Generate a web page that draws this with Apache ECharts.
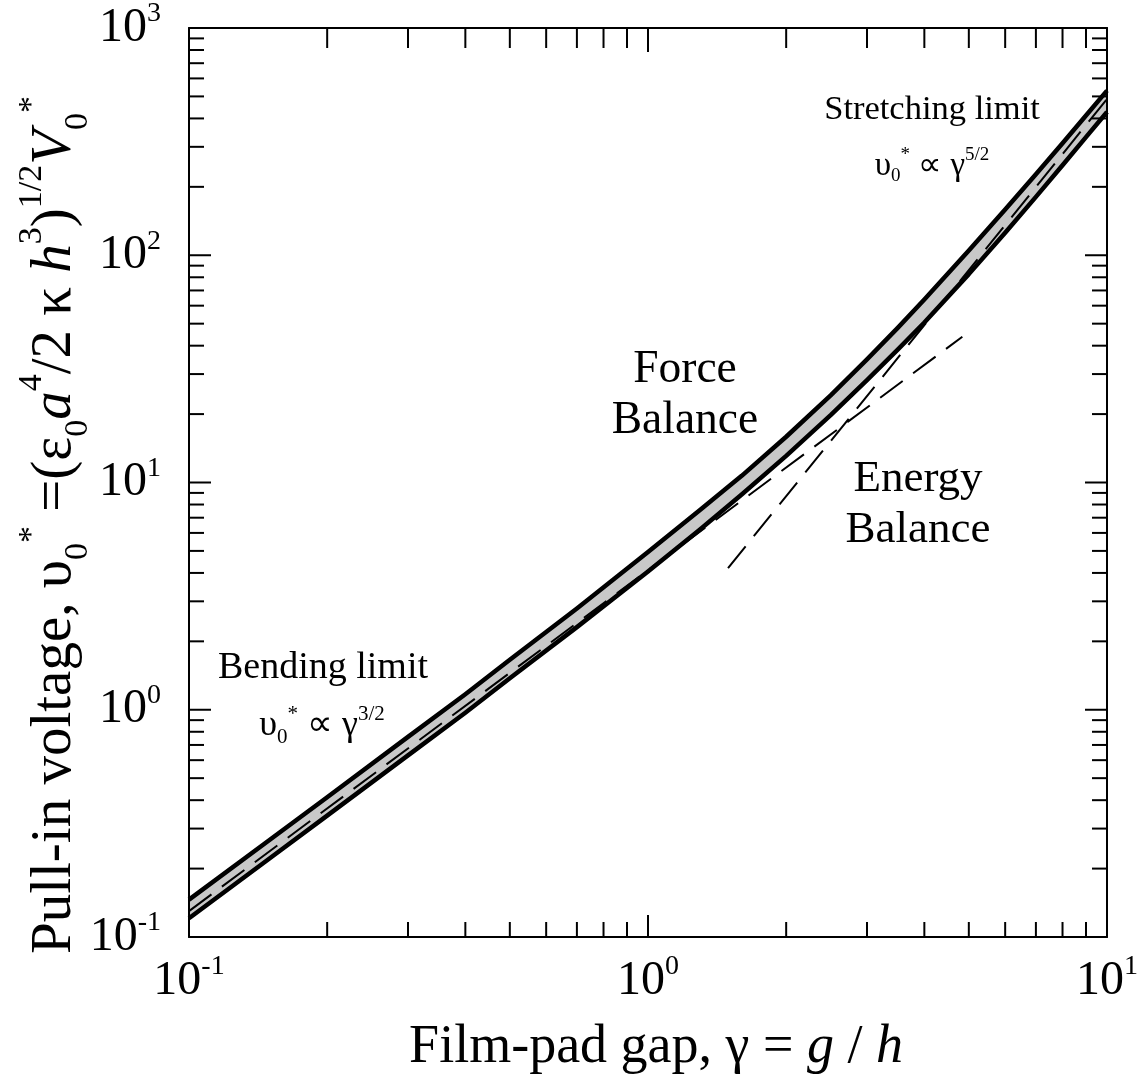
<!DOCTYPE html>
<html>
<head>
<meta charset="utf-8">
<script src="https://cdn.jsdelivr.net/npm/echarts@6/dist/echarts.min.js"></script>
<style>
  html, body { margin: 0; padding: 0; background: #fff; }
  #chart { width: 1148px; height: 1080px; }
</style>
</head>
<body>
<div id="chart"></div>
<script>
// ---- data ----
const gamma = [0.1, 0.15, 0.2, 0.3, 0.4, 0.5, 0.7, 1.0, 1.3, 1.6, 2.0, 2.5, 3.0, 3.5, 4.0, 5.0, 6.0, 7.0, 8.0, 9.0, 10];
const upperCurve = [0.146, 0.268, 0.412, 0.76, 1.17, 1.66, 2.79, 4.94, 7.58, 10.7, 15.9, 24.2, 34.8, 47.9, 63.9, 105, 159, 227, 311, 412, 530];
const lowerCurve = [0.121, 0.222, 0.342, 0.63, 0.97, 1.375, 2.31, 4.06, 6.23, 8.85, 13.1, 19.8, 28.2, 38.4, 50.6, 82.6, 125.6, 180.7, 249, 331, 427];
const bendingAsymptote = [[0.1, 0.130], [4.84, 43.8]];
const stretchingAsymptote = [[1.494, 4.2], [10, 487]];
const xMajorTicks = [0.1, 1, 10];
const xMinorTicks = [0.2, 0.3, 0.4, 0.5, 0.6, 0.7, 0.8, 0.9, 2, 3, 4, 5, 6, 7, 8, 9];
const yMajorTicks = [0.1, 1, 10, 100, 1000];
const yMinorTicks = [0.2, 0.3, 0.4, 0.5, 0.6, 0.7, 0.8, 0.9, 2, 3, 4, 5, 6, 7, 8, 9,
                     20, 30, 40, 50, 60, 70, 80, 90, 200, 300, 400, 500, 600, 700, 800, 900];

const FONT = 'Liberation Serif';
const chart = echarts.init(document.getElementById('chart'), null, { renderer: 'canvas' });

function expLabel(v) {
  const e = Math.round(Math.log10(v));
  return '{b|10}{s|' + e + '}';
}
const tickLabelRich = {
  b: { fontFamily: FONT, fontSize: 48, color: '#000', lineHeight: 56 },
  s: { fontFamily: FONT, fontSize: 28, color: '#000', lineHeight: 28, verticalAlign: 'top' }
};

const xTickData = xMajorTicks.map(v => [v, 1, 1]).concat(xMinorTicks.map(v => [v, 1, 0]));
const yTickData = yMajorTicks.map(v => [1, v, 1]).concat(yMinorTicks.map(v => [1, v, 0]));

const bandData = gamma.map((g, i) => [g, upperCurve[i], lowerCurve[i]]);

const option = {
  animation: false,
  backgroundColor: '#fff',
  grid: { left: 189, right: 41, top: 27, bottom: 143, containLabel: false },
  xAxis: [
    {
      type: 'log', logBase: 10, min: 0.1, max: 10, position: 'bottom', z: 10,
      axisLine: { show: true, lineStyle: { color: '#000', width: 2 } },
      axisTick: { show: false }, splitLine: { show: false }, minorTick: { show: false },
      axisLabel: { margin: 16, formatter: expLabel, rich: tickLabelRich },
      name: '{m|Film-pad gap, γ = }{i|g}{m| / }{i|h}',
      nameLocation: 'middle', nameGap: 84,
      nameTextStyle: {
        padding: [0, 0, 0, 16],
        rich: {
          m: { fontFamily: FONT, fontSize: 54, color: '#000' },
          i: { fontFamily: FONT, fontSize: 54, fontStyle: 'italic', color: '#000' }
        }
      }
    },
    {
      type: 'log', logBase: 10, min: 0.1, max: 10, position: 'top', z: 10,
      axisLine: { show: true, lineStyle: { color: '#000', width: 2 } },
      axisTick: { show: false }, axisLabel: { show: false }, splitLine: { show: false }
    }
  ],
  yAxis: [
    {
      type: 'log', logBase: 10, min: 0.1, max: 1000, position: 'left', z: 10,
      axisLine: { show: true, lineStyle: { color: '#000', width: 2 } },
      axisTick: { show: false }, splitLine: { show: false }, minorTick: { show: false },
      axisLabel: { margin: 28, formatter: expLabel, rich: tickLabelRich }
    },
    {
      type: 'log', logBase: 10, min: 0.1, max: 1000, position: 'right', z: 10,
      axisLine: { show: true, lineStyle: { color: '#000', width: 2 } },
      axisTick: { show: false }, axisLabel: { show: false }, splitLine: { show: false }
    }
  ],
  series: [
    {
      type: 'custom', name: 'band', xAxisIndex: 0, yAxisIndex: 0, z: 1, silent: true, clip: true,
      data: bandData,
      encode: { x: 0, y: [1, 2] },
      renderItem: function (params, api) {
        if (params.dataIndex !== 0) return null;
        const pts = [];
        for (let i = 0; i < gamma.length; i++) pts.push(api.coord([gamma[i], upperCurve[i]]));
        for (let i = gamma.length - 1; i >= 0; i--) pts.push(api.coord([gamma[i], lowerCurve[i]]));
        return { type: 'polygon', shape: { points: pts }, style: { fill: '#c8c8c8', stroke: null } };
      }
    },
    {
      type: 'line', name: 'upper', data: gamma.map((g, i) => [g, upperCurve[i]]),
      showSymbol: false, smooth: false, z: 3,
      lineStyle: { color: '#000', width: 4.5, join: 'round' }
    },
    {
      type: 'line', name: 'lower', data: gamma.map((g, i) => [g, lowerCurve[i]]),
      showSymbol: false, smooth: false, z: 3,
      lineStyle: { color: '#000', width: 4.5, join: 'round' }
    },
    {
      type: 'line', name: 'bending', data: bendingAsymptote,
      showSymbol: false, z: 4,
      lineStyle: { color: '#000', width: 2, type: [28, 13] }
    },
    {
      type: 'line', name: 'stretching', data: stretchingAsymptote,
      showSymbol: false, z: 4,
      lineStyle: { color: '#000', width: 2, type: [28, 13] }
    },
    {
      type: 'custom', name: 'xticks', xAxisIndex: 0, yAxisIndex: 0, z: 6, silent: true, clip: false,
      data: xTickData, encode: { x: 0, y: 1 },
      renderItem: function (params, api) {
        const cs = params.coordSys;
        const x = api.coord([api.value(0), 1])[0];
        const major = api.value(2) === 1;
        const lb = major ? 22 : 15, lt = major ? 24 : 20;
        const bottom = cs.y + cs.height, top = cs.y;
        return {
          type: 'group', children: [
            { type: 'line', shape: { x1: x, y1: bottom, x2: x, y2: bottom - lb }, style: { stroke: '#000', lineWidth: 2 } },
            { type: 'line', shape: { x1: x, y1: top, x2: x, y2: top + lt }, style: { stroke: '#000', lineWidth: 2 } }
          ]
        };
      }
    },
    {
      type: 'custom', name: 'yticks', xAxisIndex: 0, yAxisIndex: 0, z: 6, silent: true, clip: false,
      data: yTickData, encode: { x: 0, y: 1 },
      renderItem: function (params, api) {
        const cs = params.coordSys;
        const y = api.coord([1, api.value(1)])[1];
        const major = api.value(2) === 1;
        const len = major ? 22 : 15;
        const left = cs.x, right = cs.x + cs.width;
        return {
          type: 'group', children: [
            { type: 'line', shape: { x1: left, y1: y, x2: left + len, y2: y }, style: { stroke: '#000', lineWidth: 2 } },
            { type: 'line', shape: { x1: right, y1: y, x2: right - len, y2: y }, style: { stroke: '#000', lineWidth: 2 } }
          ]
        };
      }
    }
  ]
};

const annRichB = {
  m: { fontFamily: FONT, fontSize: 36, color: '#000', lineHeight: 44 },
  sb: { fontFamily: FONT, fontSize: 21, color: '#000', lineHeight: 22, verticalAlign: 'bottom' },
  sp: { fontFamily: FONT, fontSize: 21, color: '#000', lineHeight: 22, verticalAlign: 'top' }
};
const annRichS = {
  m: { fontFamily: FONT, fontSize: 33, color: '#000', lineHeight: 40 },
  sb: { fontFamily: FONT, fontSize: 19, color: '#000', lineHeight: 20, verticalAlign: 'bottom' },
  sp: { fontFamily: FONT, fontSize: 19, color: '#000', lineHeight: 20, verticalAlign: 'top' }
};
const yTitleRich = {
  m: { fontFamily: FONT, fontSize: 57, color: '#000', lineHeight: 80 },
  mi: { fontFamily: FONT, fontSize: 57, fontStyle: 'italic', color: '#000', lineHeight: 80 },
  sp: { fontFamily: FONT, fontSize: 34, color: '#000', lineHeight: 36, verticalAlign: 'top' },
  sb: { fontFamily: FONT, fontSize: 34, color: '#000', lineHeight: 36, verticalAlign: 'bottom' }
};

option.graphic = [
  { type: 'text', x: 55, y: 525, rotation: Math.PI / 2, z: 20, silent: true,
    style: { text: '{m|Pull-in voltage, υ}{sb|0}{sp|*}{m| =(ε}{sb|0}{mi|a}{sp|4}{m|/2 κ }{mi|h}{sp|3}{m|)}{sp|1/2}{mi|V}{sb|0}{sp|*}',
             rich: yTitleRich, align: 'center', verticalAlign: 'middle' } },
  { type: 'text', x: 323, y: 668, z: 20, silent: true,
    style: { text: 'Bending limit', fontFamily: FONT, fontSize: 38, fill: '#000', align: 'center', verticalAlign: 'middle' } },
  { type: 'text', x: 322, y: 726, z: 20, silent: true,
    style: { text: '{m|υ}{sb|0}{sp|*}{m| ∝ γ}{sp|3/2}', rich: annRichB, align: 'center', verticalAlign: 'middle' } },
  { type: 'text', x: 932, y: 110, z: 20, silent: true,
    style: { text: 'Stretching limit', fontFamily: FONT, fontSize: 34.5, fill: '#000', align: 'center', verticalAlign: 'middle' } },
  { type: 'text', x: 932, y: 166, z: 20, silent: true,
    style: { text: '{m|υ}{sb|0}{sp|*}{m| ∝ γ}{sp|5/2}', rich: annRichS, align: 'center', verticalAlign: 'middle' } },
  { type: 'text', x: 685, y: 396, z: 20, silent: true,
    style: { text: 'Force\nBalance', fontFamily: FONT, fontSize: 45.5, lineHeight: 51, fill: '#000', align: 'center', verticalAlign: 'middle' } },
  { type: 'text', x: 918, y: 505, z: 20, silent: true,
    style: { text: 'Energy\nBalance', fontFamily: FONT, fontSize: 45, lineHeight: 51, fill: '#000', align: 'center', verticalAlign: 'middle' } }
];

chart.setOption(option);
</script>
</body>
</html>
